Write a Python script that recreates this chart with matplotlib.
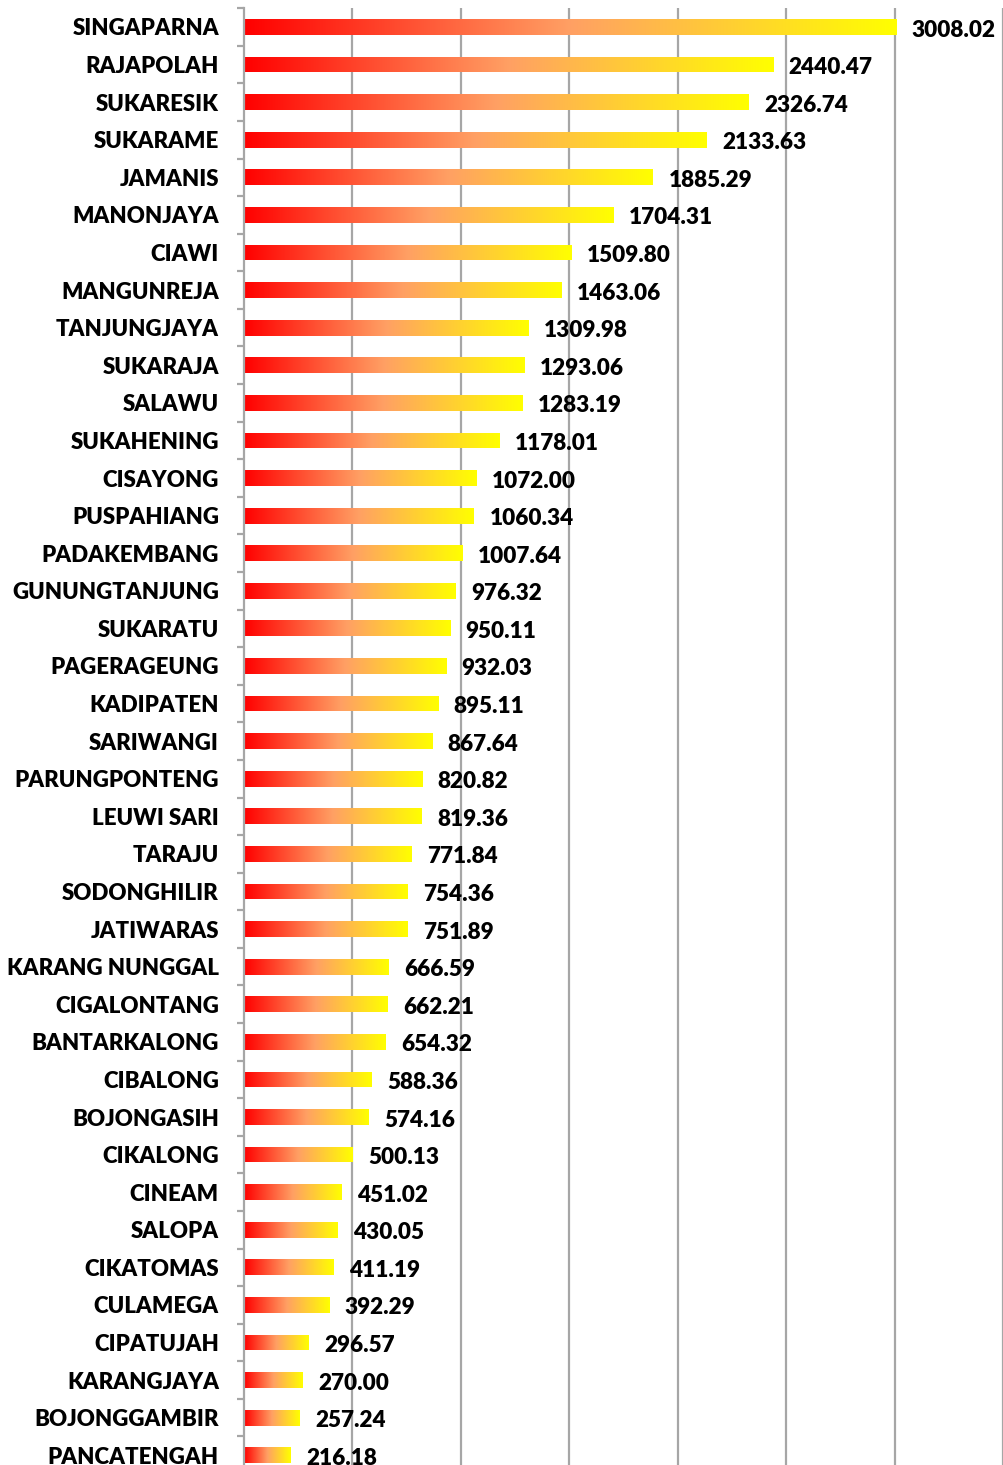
import numpy as np
import matplotlib.pyplot as plt
from matplotlib.colors import LinearSegmentedColormap

names = ['SINGAPARNA', 'RAJAPOLAH', 'SUKARESIK', 'SUKARAME', 'JAMANIS', 'MANONJAYA',
         'CIAWI', 'MANGUNREJA', 'TANJUNGJAYA', 'SUKARAJA', 'SALAWU', 'SUKAHENING',
         'CISAYONG', 'PUSPAHIANG', 'PADAKEMBANG', 'GUNUNGTANJUNG', 'SUKARATU',
         'PAGERAGEUNG', 'KADIPATEN', 'SARIWANGI', 'PARUNGPONTENG', 'LEUWI SARI',
         'TARAJU', 'SODONGHILIR', 'JATIWARAS', 'KARANG NUNGGAL', 'CIGALONTANG',
         'BANTARKALONG', 'CIBALONG', 'BOJONGASIH', 'CIKALONG', 'CINEAM', 'SALOPA',
         'CIKATOMAS', 'CULAMEGA', 'CIPATUJAH', 'KARANGJAYA', 'BOJONGGAMBIR',
         'PANCATENGAH']
values = [3008.02, 2440.47, 2326.74, 2133.63, 1885.29, 1704.31, 1509.80, 1463.06,
          1309.98, 1293.06, 1283.19, 1178.01, 1072.00, 1060.34, 1007.64, 976.32,
          950.11, 932.03, 895.11, 867.64, 820.82, 819.36, 771.84, 754.36, 751.89,
          666.59, 662.21, 654.32, 588.36, 574.16, 500.13, 451.02, 430.05, 411.19,
          392.29, 296.57, 270.00, 257.24, 216.18]

plt.rcParams['font.family'] = ['Lato', 'DejaVu Sans']

fire = LinearSegmentedColormap.from_list(
    'fire', [(0, '#ff0000'), (0.5, '#ffa064'), (1, '#ffff00')])
grad = np.linspace(0, 1, 256).reshape(1, -1)

fig = plt.figure(figsize=(10.04, 14.65), dpi=100)
ax = fig.add_axes([0.243, -0.0062, 0.756, 1.0006])

n = len(names)
y = np.arange(n)
bars = ax.barh(y, values, height=0.42, color='none', edgecolor='none', zorder=2)
for b, v in zip(bars, values):
    y0 = b.get_y()
    im = ax.imshow(grad, cmap=fire, aspect='auto', zorder=2,
                   extent=(0, v, y0 + b.get_height(), y0))
    im.set_clip_path(b)
    ax.text(v + 72, b.get_y() + b.get_height() / 2 + 0.08, f'{v:.2f}',
            ha='left', va='center', fontsize=16.2, fontweight='heavy', zorder=3)

ax.set_xlim(0, 3500)
ax.set_ylim(n - 0.5, -0.5)
ax.set_xticks(np.arange(500, 3501, 500))
ax.tick_params(axis='x', length=0, labelbottom=False)
ax.grid(axis='x', color='#a6a6a6', lw=1.6, zorder=0)

ax.set_yticks(y)
ax.set_yticklabels(names, fontsize=16, fontweight='heavy')
ax.tick_params(axis='y', which='major', length=0, pad=18)
ax.set_yticks(np.arange(-0.5, n, 1), minor=True)
ax.tick_params(axis='y', which='minor', length=5, color='#a6a6a6', width=1.6)

for s in ['top', 'right', 'bottom']:
    ax.spines[s].set_visible(False)
ax.spines['left'].set_color('#a6a6a6')
ax.spines['left'].set_linewidth(1.6)

fig.savefig('out.png', dpi=100)
